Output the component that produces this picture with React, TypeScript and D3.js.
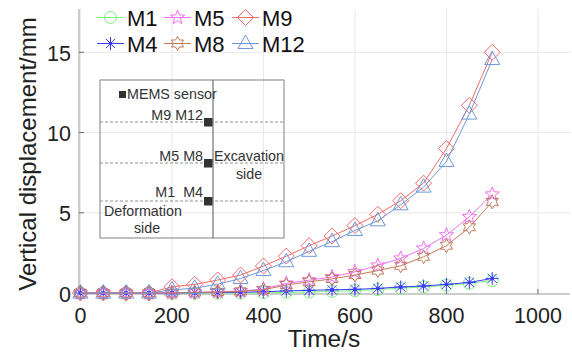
import React from "react";
import * as d3 from "d3";

const times = [0, 50, 100, 150, 200, 250, 300, 350, 400, 450, 500, 550, 600, 650, 700, 750, 800, 850, 900];
const M1 = [0, 0, 0, 0, 0, 0, 0, 0, 0.02, 0.04, 0.06, 0.1, 0.15, 0.22, 0.3, 0.38, 0.48, 0.6, 0.78];
const M4 = [0, 0, 0, 0, 0, 0.02, 0.03, 0.05, 0.08, 0.13, 0.17, 0.2, 0.23, 0.29, 0.38, 0.44, 0.54, 0.66, 0.91];
const M5 = [0, 0, 0, 0, 0.02, 0.05, 0.08, 0.12, 0.25, 0.6, 0.8, 1.0, 1.32, 1.72, 2.16, 2.78, 3.61, 4.75, 6.15];
const M8 = [0, 0, 0, 0, 0.01, 0.03, 0.06, 0.1, 0.2, 0.5, 0.7, 0.88, 1.12, 1.4, 1.7, 2.26, 2.95, 4.1, 5.68];
const M9 = [0, 0, 0, 0, 0.39, 0.54, 0.81, 1.12, 1.68, 2.3, 2.95, 3.55, 4.2, 4.9, 5.75, 6.85, 9.0, 11.7, 15.0];
const M12 = [0, 0, 0, 0, 0.2, 0.3, 0.55, 0.9, 1.4, 1.95, 2.6, 3.2, 3.9, 4.5, 5.5, 6.6, 8.2, 11.15, 14.55];

const xTicks = [0, 200, 400, 600, 800, 1000];
const yTicks = [0, 5, 10, 15];

const seriesNames = ["M1", "M4", "M5", "M8", "M9", "M12"];
const seriesValues = [M1, M4, M5, M8, M9, M12];
const seriesColors = ["#7ff07f", "#3a3aff", "#f070f0", "#c07a5a", "#f26a6a", "#6f98d8"];
const seriesMarkers = ["circle", "asterisk", "star5", "star6", "diamond", "triangle"];

function starPath(n: number, R: number, r: number, rot = -Math.PI / 2) {
  const pts: string[] = [];
  for (let i = 0; i < 2 * n; i++) {
    const rad = i % 2 === 0 ? R : r;
    const a = rot + (i * Math.PI) / n;
    pts.push(`${(rad * Math.cos(a)).toFixed(2)},${(rad * Math.sin(a)).toFixed(2)}`);
  }
  return "M" + pts.join("L") + "Z";
}

function Marker({ type, color, x, y }: { type: string; color: string; x: number; y: number }) {
  const t = `translate(${x},${y})`;
  switch (type) {
    case "circle":
      return <circle cx={x} cy={y} r={6} fill="none" stroke={color} strokeWidth={1} />;
    case "asterisk":
      return (
        <g transform={t} stroke={color} strokeWidth={1}>
          <line x1={-6.5} y1={0} x2={6.5} y2={0} />
          <line x1={0} y1={-6.5} x2={0} y2={6.5} />
          <line x1={-4.6} y1={-4.6} x2={4.6} y2={4.6} />
          <line x1={-4.6} y1={4.6} x2={4.6} y2={-4.6} />
          <circle r={1.5} fill={color} />
        </g>
      );
    case "star5":
      return <path transform={t} d={starPath(5, 7.5, 3.2)} fill="none" stroke={color} strokeWidth={1} />;
    case "star6":
      return <path transform={t} d={starPath(6, 7, 4)} fill="none" stroke={color} strokeWidth={1} />;
    case "diamond":
      return <path transform={t} d="M0,-8L8,0L0,8L-8,0Z" fill="none" stroke={color} strokeWidth={1} />;
    case "triangle":
      return <path transform={t} d="M0,-8.5L7.5,5L-7.5,5Z" fill="none" stroke={color} strokeWidth={1} />;
    default:
      return null;
  }
}

export default function App() {
  const W = 572, H = 354;
  const left = 79, right = 570, top = 9, bottom = 294;
  const x = d3.scaleLinear().domain([-3, 1070]).range([left, right]);
  const y = d3.scaleLinear().domain([-0.06, 17.7]).range([bottom, top]);
  const line = d3.line<number>().x((_, i) => x(times[i])).y((v) => y(v));
  const font = "'Liberation Sans', Arial, sans-serif";

  const legendCols = [97, 164, 232];
  const legendRows = [17.5, 43.5];

  const inset = { l: 100, t: 80, r: 284, b: 238, vx: 213 };
  const dashY = [122, 163, 201];

  return (
    <svg width={W} height={H} style={{ position: "absolute", left: 0, top: 0, background: "#fff" }} fontFamily={font}>
      {/* grid */}
      {xTicks.map((t) => (
        <line key={"gx" + t} x1={x(t)} x2={x(t)} y1={top} y2={bottom} stroke="#e8e8e8" strokeWidth={1} />
      ))}
      {yTicks.filter((t) => t > 0).map((t) => (
        <line key={"gy" + t} x1={left} x2={right} y1={y(t)} y2={y(t)} stroke="#e8e8e8" strokeWidth={1} />
      ))}
      {/* axes */}
      <line x1={left} x2={left} y1={top} y2={bottom} stroke="#9a9a9a" strokeWidth={1} />
      <line x1={left} x2={right} y1={bottom} y2={bottom} stroke="#9a9a9a" strokeWidth={1} />
      {xTicks.map((t) => (
        <line key={"tx" + t} x1={x(t)} x2={x(t)} y1={bottom} y2={bottom - 5} stroke="#6a6a6a" strokeWidth={1} />
      ))}
      {yTicks.map((t) => (
        <line key={"ty" + t} x1={left} x2={left + 5} y1={y(t)} y2={y(t)} stroke="#6a6a6a" strokeWidth={1} />
      ))}
      {xTicks.map((t) => (
        <text key={"lx" + t} x={x(t)} y={323} textAnchor="middle" fontSize={21.5} fill="#222">
          {t}
        </text>
      ))}
      {yTicks.map((t) => (
        <text key={"ly" + t} x={71} y={y(t) + 8.5} textAnchor="end" fontSize={21.5} fill="#222">
          {t}
        </text>
      ))}
      <text x={324} y={347} textAnchor="middle" fontSize={24.5} fill="#222">
        Time/s
      </text>
      <text transform={`translate(36,154) rotate(-90)`} textAnchor="middle" fontSize={24} fill="#222">
        Vertical displacement/mm
      </text>

      {/* inset schematic */}
      <g>
        <rect x={inset.l} y={inset.t} width={inset.r - inset.l} height={inset.b - inset.t} fill="none" stroke="#808080" strokeWidth={1} />
        <line x1={inset.vx} x2={inset.vx} y1={inset.t} y2={inset.b} stroke="#555" strokeWidth={1} />
        {dashY.map((dy) => (
          <line key={"d" + dy} x1={inset.l} x2={inset.r} y1={dy} y2={dy} stroke="#777" strokeWidth={0.8} strokeDasharray="3,2" />
        ))}
        {dashY.map((dy) => (
          <rect key={"s" + dy} x={204} y={dy - 4} width={8.5} height={8.5} fill="#333" />
        ))}
        <rect x={119} y={91} width={7} height={7} fill="#333" />
        <g fontSize={14.3} fill="#333">
          <text x={127} y={99}>MEMS sensor</text>
          <text x={203} y={120} textAnchor="end">M9 M12</text>
          <text x={203} y={161} textAnchor="end">M5 M8</text>
          <text x={203} y={197} textAnchor="end" style={{ whiteSpace: "pre" }}>{"M1  M4"}</text>
          <text x={249} y={161} textAnchor="middle">Excavation</text>
          <text x={249} y={179} textAnchor="middle">side</text>
          <text x={104} y={216}>Deformation</text>
          <text x={147} y={233} textAnchor="middle">side</text>
        </g>
      </g>

      {/* series */}
      {seriesValues.map((vals, si) => (
        <g key={seriesNames[si]}>
          <path d={line(vals) || ""} fill="none" stroke={seriesColors[si]} strokeWidth={1} />
          {vals.map((v, i) => (
            <Marker key={i} type={seriesMarkers[si]} color={seriesColors[si]} x={x(times[i])} y={y(v)} />
          ))}
        </g>
      ))}

      {/* legend */}
      {seriesNames.map((name, si) => {
        const col = Math.floor(si / 2);
        const row = si % 2;
        const lx = legendCols[col];
        const ly = legendRows[row];
        return (
          <g key={"lg" + name}>
            <line x1={lx} x2={lx + 27} y1={ly} y2={ly} stroke={seriesColors[si]} strokeWidth={1} />
            <Marker type={seriesMarkers[si]} color={seriesColors[si]} x={lx + 13.5} y={ly} />
            <text x={lx + 30} y={ly + 8} fontSize={22} fill="#111">
              {name}
            </text>
          </g>
        );
      })}
    </svg>
  );
}
